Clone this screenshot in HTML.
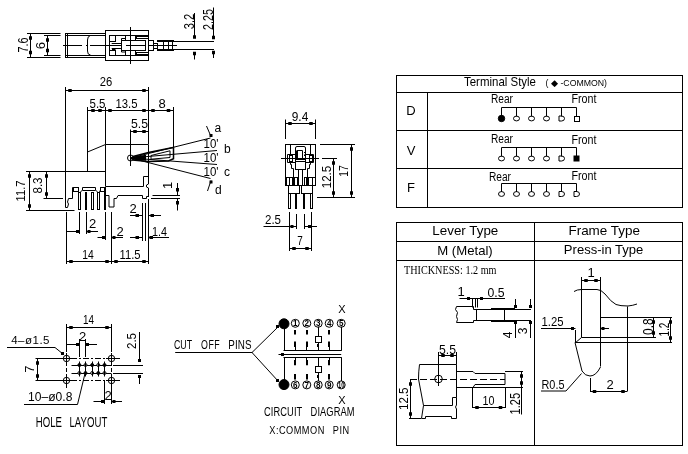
<!DOCTYPE html>
<html><head><meta charset="utf-8"><style>
html,body{margin:0;padding:0;background:#fff;}
svg{display:block;will-change:transform;}
text{font-family:"Liberation Sans",sans-serif;fill:#000;stroke:none;}
</style></head><body>
<svg width="688" height="454" viewBox="0 0 688 454" stroke="#000" stroke-width="1" fill="none">
<line x1="27" y1="33.5" x2="60.5" y2="33.5"/>
<line x1="27" y1="57.5" x2="60.5" y2="57.5"/>
<line x1="44" y1="35.5" x2="60.5" y2="35.5"/>
<line x1="44" y1="55.5" x2="60.5" y2="55.5"/>
<line x1="30.5" y1="33.5" x2="30.5" y2="57"/>
<rect x="29.0" y="36.25" width="3" height="3.5" fill="#000" stroke="none"/>
<rect x="29.0" y="50.75" width="3" height="3.5" fill="#000" stroke="none"/>
<line x1="47.5" y1="35.5" x2="47.5" y2="55"/>
<rect x="46.0" y="38.25" width="3" height="3.5" fill="#000" stroke="none"/>
<rect x="46.0" y="48.75" width="3" height="3.5" fill="#000" stroke="none"/>
<text x="27.5" y="45" font-size="14" textLength="15" lengthAdjust="spacingAndGlyphs" text-anchor="middle" transform="rotate(-90 27.5 45)">7.6</text>
<text x="44.5" y="45.5" font-size="13" text-anchor="middle" transform="rotate(-90 44.5 45.5)">6</text>
<line x1="65" y1="33.5" x2="105.5" y2="33.5"/>
<line x1="65" y1="35.5" x2="105.5" y2="35.5"/>
<line x1="65" y1="55.5" x2="105.5" y2="55.5"/>
<line x1="65" y1="57.5" x2="105.5" y2="57.5"/>
<line x1="65.5" y1="33.5" x2="65.5" y2="57"/>
<line x1="67.5" y1="33.5" x2="67.5" y2="57"/>
<line x1="63" y1="45.5" x2="82" y2="45.5"/>
<line x1="86" y1="45.5" x2="88" y2="45.5"/>
<line x1="90" y1="45.5" x2="105.5" y2="45.5"/>
<path d="M90.5,35.5 Q87.5,36 87.5,40 L87.5,51 Q87.5,55 90.5,55" fill="none"/>
<rect x="105.5" y="30.5" width="43.0" height="30.0" fill="none"/>
<rect x="109.5" y="35.5" width="39.0" height="20.0" fill="none"/>
<line x1="130.5" y1="27" x2="130.5" y2="64"/>
<rect x="109.5" y="35.5" width="6.0" height="6.0" fill="none"/>
<rect x="109.5" y="50.5" width="6.0" height="5.0" fill="none"/>
<line x1="111.7" y1="43.5" x2="121" y2="43.5"/>
<line x1="111.7" y1="48.5" x2="121" y2="48.5"/>
<line x1="112" y1="41.5" x2="115.5" y2="41.5"/>
<line x1="112" y1="49.5" x2="115.5" y2="49.5"/>
<line x1="104" y1="45.5" x2="121" y2="45.5"/>
<rect x="121.5" y="40.5" width="24.0" height="10.0" fill="none"/>
<polyline points="121.5,40.5 121.5,38.5 125.5,38.5" fill="none"/>
<polyline points="121.5,50 121.5,52 125.5,52" fill="none"/>
<rect x="125.5" y="35.5" width="10.0" height="5.0" fill="none"/>
<rect x="125.5" y="50.5" width="10.0" height="5.0" fill="none"/>
<rect x="136.5" y="36.5" width="12.0" height="2.0" fill="none"/>
<rect x="136.5" y="52.5" width="12.0" height="2.0" fill="none"/>
<line x1="126" y1="45.5" x2="145" y2="45.5"/>
<rect x="148.5" y="40.5" width="5.0" height="10.0" fill="none"/>
<rect x="153.5" y="43.5" width="4.0" height="5.0" fill="none"/>
<line x1="157" y1="41" x2="174" y2="41" stroke-width="2"/>
<line x1="157" y1="50" x2="174" y2="50" stroke-width="2"/>
<line x1="174" y1="41.5" x2="214" y2="41.5"/>
<line x1="174" y1="49.5" x2="214" y2="49.5"/>
<line x1="163.5" y1="41" x2="163.5" y2="50"/>
<line x1="168.5" y1="41" x2="168.5" y2="50"/>
<line x1="172.5" y1="41" x2="172.5" y2="50"/>
<line x1="149" y1="45.5" x2="177" y2="45.5"/>
<line x1="194.5" y1="13" x2="194.5" y2="37"/>
<rect x="193.0" y="35.25" width="3" height="3.5" fill="#000" stroke="none"/>
<line x1="194.5" y1="52" x2="194.5" y2="59.5"/>
<rect x="193.0" y="51.75" width="3" height="3.5" fill="#000" stroke="none"/>
<line x1="213.5" y1="7.5" x2="213.5" y2="37.5"/>
<rect x="212.0" y="35.75" width="3" height="3.5" fill="#000" stroke="none"/>
<line x1="213.5" y1="51" x2="213.5" y2="58"/>
<rect x="212.0" y="50.75" width="3" height="3.5" fill="#000" stroke="none"/>
<text x="194" y="21.5" font-size="14" textLength="15.5" lengthAdjust="spacingAndGlyphs" text-anchor="middle" transform="rotate(-90 194 21.5)">3.2</text>
<text x="212.5" y="19.5" font-size="14" textLength="21" lengthAdjust="spacingAndGlyphs" text-anchor="middle" transform="rotate(-90 212.5 19.5)">2.25</text>
<line x1="65.5" y1="87" x2="65.5" y2="171"/>
<line x1="65.5" y1="90.5" x2="148.5" y2="90.5"/>
<rect x="68.25" y="89.0" width="3.5" height="3" fill="#000" stroke="none"/>
<rect x="142.25" y="89.0" width="3.5" height="3" fill="#000" stroke="none"/>
<line x1="148.5" y1="87" x2="148.5" y2="144.5"/>
<text x="106" y="86" font-size="13" textLength="12.5" lengthAdjust="spacingAndGlyphs" text-anchor="middle">26</text>
<line x1="87.5" y1="107" x2="87.5" y2="171"/>
<line x1="105.5" y1="107" x2="105.5" y2="144.5"/>
<line x1="173.5" y1="107" x2="173.5" y2="158"/>
<line x1="87.5" y1="110.5" x2="173.5" y2="110.5"/>
<rect x="91.25" y="109.0" width="3.5" height="3" fill="#000" stroke="none"/>
<rect x="98.25" y="109.0" width="3.5" height="3" fill="#000" stroke="none"/>
<rect x="108.25" y="109.0" width="3.5" height="3" fill="#000" stroke="none"/>
<rect x="142.25" y="109.0" width="3.5" height="3" fill="#000" stroke="none"/>
<rect x="151.25" y="109.0" width="3.5" height="3" fill="#000" stroke="none"/>
<rect x="166.75" y="109.0" width="3.5" height="3" fill="#000" stroke="none"/>
<text x="97.5" y="108" font-size="13" textLength="16" lengthAdjust="spacingAndGlyphs" text-anchor="middle">5.5</text>
<text x="126.5" y="108" font-size="13" textLength="22" lengthAdjust="spacingAndGlyphs" text-anchor="middle">13.5</text>
<text x="162" y="108" font-size="13" text-anchor="middle">8</text>
<line x1="130.5" y1="129.5" x2="130.5" y2="166"/>
<line x1="130.5" y1="131.5" x2="148.5" y2="131.5"/>
<rect x="133.25" y="130.0" width="3.5" height="3" fill="#000" stroke="none"/>
<rect x="142.25" y="130.0" width="3.5" height="3" fill="#000" stroke="none"/>
<text x="139.5" y="127.5" font-size="13" textLength="17" lengthAdjust="spacingAndGlyphs" text-anchor="middle">5.5</text>
<line x1="105.5" y1="144.5" x2="148" y2="144.5"/>
<line x1="105.5" y1="144.5" x2="105.5" y2="186.5"/>
<line x1="105.5" y1="186.5" x2="143.5" y2="186.5"/>
<polyline points="143.5,186.5 143.5,176.5 148,176.5" fill="none"/>
<polyline points="148.5,144.5 148.5,184 146.5,185 146.5,187 148.5,188 148.5,197" fill="none"/>
<line x1="87.5" y1="152" x2="105.5" y2="144.5"/>
<circle cx="130.5" cy="158" r="3" fill="none"/>
<polygon points="133,156.5 148.5,152.5 173.5,147.5 173.5,158.7 168.5,161 148.5,161.5 133,160" fill="none" stroke-width="1.5"/>
<polygon points="131,157 146,154.8 146,160.8 131,159.6" fill="#000" stroke="none"/>
<polygon points="151,155.5 170,150.8 170,157.5 151,159.2" fill="none"/>
<line x1="130.5" y1="158" x2="210.5" y2="138"/>
<line x1="130.5" y1="158" x2="217" y2="150.5"/>
<line x1="130.5" y1="158" x2="217" y2="164.5"/>
<line x1="130.5" y1="158" x2="210.5" y2="178.5"/>
<line x1="206.5" y1="126" x2="211" y2="136.5"/>
<rect x="209.5" y="134" width="3" height="3" fill="#000" stroke="none"/>
<line x1="207.5" y1="191" x2="211" y2="180.5"/>
<rect x="209.5" y="180.5" width="3" height="3" fill="#000" stroke="none"/>
<text x="214.5" y="132" font-size="12">a</text>
<text x="224" y="153" font-size="12">b</text>
<text x="224" y="176" font-size="12">c</text>
<text x="215" y="194" font-size="12">d</text>
<text x="211" y="148" font-size="13" textLength="15" lengthAdjust="spacingAndGlyphs" text-anchor="middle">10'</text>
<text x="211" y="162" font-size="13" textLength="15" lengthAdjust="spacingAndGlyphs" text-anchor="middle">10'</text>
<text x="211" y="176" font-size="13" textLength="15" lengthAdjust="spacingAndGlyphs" text-anchor="middle">10'</text>
<line x1="26" y1="171.5" x2="105.5" y2="171.5"/>
<line x1="26" y1="210.5" x2="74.5" y2="210.5"/>
<line x1="43.5" y1="198.5" x2="63" y2="198.5"/>
<line x1="29.5" y1="171.5" x2="29.5" y2="210.5"/>
<rect x="28.0" y="174.25" width="3" height="3.5" fill="#000" stroke="none"/>
<rect x="28.0" y="204.25" width="3" height="3.5" fill="#000" stroke="none"/>
<line x1="46.5" y1="171.5" x2="46.5" y2="198.5"/>
<rect x="45.0" y="174.25" width="3" height="3.5" fill="#000" stroke="none"/>
<rect x="45.0" y="192.25" width="3" height="3.5" fill="#000" stroke="none"/>
<text x="25" y="191" font-size="13" textLength="21" lengthAdjust="spacingAndGlyphs" text-anchor="middle" transform="rotate(-90 25 191)">11.7</text>
<text x="42" y="185.5" font-size="13" textLength="16" lengthAdjust="spacingAndGlyphs" text-anchor="middle" transform="rotate(-90 42 185.5)">8.3</text>
<polyline points="65.5,171.5 65.5,207.5 67.5,207.5 68.5,204 67.5,202 68.5,198.5 72.5,198.5 72.5,187.5 78.5,187.5 78.5,192" fill="none"/>
<rect x="73.5" y="187.5" width="5.0" height="4.0" fill="none"/>
<polyline points="80.5,192 82.5,190 82.5,187.5 95.5,187.5 95.5,190 97.5,192" fill="none"/>
<line x1="82.5" y1="190.5" x2="95.5" y2="190.5"/>
<rect x="100.5" y="187.5" width="5.0" height="4.0" fill="none"/>
<polyline points="99.5,192 100.5,190" fill="none"/>
<rect x="78.5" y="192.5" width="2.0" height="17.0" fill="none"/>
<rect x="91.5" y="192.5" width="2.0" height="17.0" fill="none"/>
<rect x="97.5" y="192.5" width="2.0" height="17.0" fill="none"/>
<rect x="104.5" y="187.5" width="1.0" height="22.0" fill="none"/>
<rect x="85" y="192" width="2" height="18" fill="#000" stroke="none"/>
<polyline points="105.5,195.5 109,195.5 109,207 114,207 114,198.5 116.5,198.5 118,195.5 142.5,195.5 142.5,198.5 146.5,198.5 146.5,196.5 148.5,196.5" fill="none"/>
<line x1="152.5" y1="195.5" x2="180" y2="195.5"/>
<line x1="151" y1="198.5" x2="180" y2="198.5"/>
<line x1="177.5" y1="183" x2="177.5" y2="195"/>
<rect x="176" y="188" width="3" height="3.5" fill="#000" stroke="none"/>
<line x1="177.5" y1="199" x2="177.5" y2="210.5"/>
<rect x="176" y="201" width="3" height="3.5" fill="#000" stroke="none"/>
<text x="172.5" y="185.4" font-size="13" text-anchor="middle" transform="rotate(-90 172.5 185.4)">1</text>
<line x1="66.5" y1="212" x2="66.5" y2="264"/>
<line x1="79.5" y1="212" x2="79.5" y2="234"/>
<line x1="86.5" y1="212" x2="86.5" y2="234"/>
<line x1="105.5" y1="212" x2="105.5" y2="240"/>
<line x1="111.5" y1="212" x2="111.5" y2="264"/>
<line x1="142.5" y1="203" x2="142.5" y2="241"/>
<line x1="145.5" y1="203" x2="145.5" y2="241"/>
<line x1="148.5" y1="199" x2="148.5" y2="264"/>
<line x1="66.5" y1="231.5" x2="79.5" y2="231.5"/>
<rect x="76" y="230" width="3" height="3" fill="#000" stroke="none"/>
<line x1="86.5" y1="231.5" x2="98" y2="231.5"/>
<rect x="87.5" y="230" width="3" height="3" fill="#000" stroke="none"/>
<text x="92.5" y="228" font-size="13" text-anchor="middle">2</text>
<line x1="97.5" y1="237.5" x2="105.5" y2="237.5"/>
<rect x="102" y="236" width="3" height="3" fill="#000" stroke="none"/>
<line x1="111.5" y1="237.5" x2="123" y2="237.5"/>
<rect x="112.5" y="236" width="3" height="3" fill="#000" stroke="none"/>
<text x="120" y="235.5" font-size="13" text-anchor="middle">2</text>
<line x1="130" y1="237.5" x2="142.5" y2="237.5"/>
<rect x="135.5" y="236" width="3.5" height="3" fill="#000" stroke="none"/>
<line x1="148.5" y1="237.5" x2="169" y2="237.5"/>
<rect x="149.5" y="236" width="3.5" height="3" fill="#000" stroke="none"/>
<text x="159.5" y="235.5" font-size="13" textLength="15" lengthAdjust="spacingAndGlyphs" text-anchor="middle">1.4</text>
<line x1="130" y1="215.5" x2="142.5" y2="215.5"/>
<rect x="135.5" y="214" width="3.5" height="3" fill="#000" stroke="none"/>
<line x1="148.5" y1="215.5" x2="161" y2="215.5"/>
<rect x="150.5" y="214" width="3.5" height="3" fill="#000" stroke="none"/>
<text x="133" y="213" font-size="13" text-anchor="middle">2</text>
<line x1="66.5" y1="261.5" x2="111.5" y2="261.5"/>
<rect x="69.25" y="260.0" width="3.5" height="3" fill="#000" stroke="none"/>
<rect x="105.25" y="260.0" width="3.5" height="3" fill="#000" stroke="none"/>
<line x1="111.5" y1="261.5" x2="148.5" y2="261.5"/>
<rect x="114.25" y="260.0" width="3.5" height="3" fill="#000" stroke="none"/>
<rect x="142.25" y="260.0" width="3.5" height="3" fill="#000" stroke="none"/>
<text x="88" y="258.5" font-size="13" textLength="11.5" lengthAdjust="spacingAndGlyphs" text-anchor="middle">14</text>
<text x="130" y="258.5" font-size="13" textLength="21" lengthAdjust="spacingAndGlyphs" text-anchor="middle">11.5</text>
<line x1="285.5" y1="119.5" x2="285.5" y2="139"/>
<line x1="315.5" y1="119.5" x2="315.5" y2="139"/>
<line x1="285.5" y1="123.5" x2="315.5" y2="123.5"/>
<rect x="288.25" y="122.0" width="3.5" height="3" fill="#000" stroke="none"/>
<rect x="309.25" y="122.0" width="3.5" height="3" fill="#000" stroke="none"/>
<text x="300" y="120.5" font-size="13" textLength="16.5" lengthAdjust="spacingAndGlyphs" text-anchor="middle">9.4</text>
<rect x="285.5" y="144.5" width="30.0" height="41.0" fill="none"/>
<line x1="290.5" y1="144.5" x2="290.5" y2="154.5"/>
<line x1="310.5" y1="144.5" x2="310.5" y2="154.5"/>
<line x1="281" y1="158.5" x2="319" y2="158.5"/>
<path d="M295.5,161.5 L295.5,148 Q295.5,146.5 297,146.5 L304,146.5 Q305.5,146.5 305.5,148 L305.5,161.5 Z" fill="none"/>
<polyline points="297,150.5 297,159 303,159" fill="none" stroke-width="2"/>
<polyline points="297,150.5 302.5,150.5 302.5,159" fill="none"/>
<line x1="304.5" y1="152" x2="304.5" y2="153"/>
<line x1="304.5" y1="154.5" x2="304.5" y2="156"/>
<line x1="295.5" y1="159.5" x2="305.5" y2="159.5"/>
<polyline points="295.5,154.5 287.5,154.5 287.5,162.5 295.5,162.5" fill="none"/>
<polyline points="305.5,154.5 313.5,154.5 313.5,162.5 305.5,162.5" fill="none"/>
<rect x="289.5" y="155.5" width="3.0" height="6.0" fill="none"/>
<rect x="309.5" y="155.5" width="3.0" height="6.0" fill="none"/>
<rect x="295.5" y="161.5" width="10.0" height="8.0" fill="none"/>
<polyline points="290.5,162.5 290.5,164.5 291.5,164.5 291.5,168.5 293.5,168.5 293.5,177" fill="none"/>
<polyline points="310.5,162.5 310.5,164.5 309.5,164.5 309.5,168.5 307.5,168.5 307.5,177" fill="none"/>
<rect x="298.5" y="169.5" width="4.0" height="16.0" fill="none"/>
<rect x="286.5" y="177.5" width="11.0" height="8.0" fill="none"/>
<rect x="304.5" y="177.5" width="11.0" height="8.0" fill="none"/>
<rect x="292" y="178" width="3" height="7" fill="#000" stroke="none"/>
<rect x="306" y="178" width="3" height="7" fill="#000" stroke="none"/>
<line x1="289.5" y1="177" x2="289.5" y2="185.5"/>
<line x1="312.5" y1="177" x2="312.5" y2="185.5"/>
<rect x="288.5" y="185.5" width="11.0" height="8.0" fill="none"/>
<rect x="301.5" y="185.5" width="11.0" height="8.0" fill="none"/>
<rect x="288.5" y="193.5" width="2.0" height="15.0" fill="none"/>
<rect x="295.5" y="193.5" width="1.0" height="15.0" fill="none"/>
<rect x="303.5" y="193.5" width="1.0" height="15.0" fill="none"/>
<rect x="310.5" y="193.5" width="2.0" height="15.0" fill="none"/>
<line x1="320" y1="144.5" x2="355" y2="144.5"/>
<line x1="322" y1="158.5" x2="337" y2="158.5"/>
<line x1="317" y1="197.5" x2="355" y2="197.5"/>
<line x1="333.5" y1="158.5" x2="333.5" y2="197.5"/>
<rect x="332.0" y="161.25" width="3" height="3.5" fill="#000" stroke="none"/>
<rect x="332.0" y="191.25" width="3" height="3.5" fill="#000" stroke="none"/>
<line x1="351.5" y1="144.5" x2="351.5" y2="197.5"/>
<rect x="350.0" y="147.25" width="3" height="3.5" fill="#000" stroke="none"/>
<rect x="350.0" y="191.25" width="3" height="3.5" fill="#000" stroke="none"/>
<text x="331" y="177" font-size="13" textLength="22.5" lengthAdjust="spacingAndGlyphs" text-anchor="middle" transform="rotate(-90 331 177)">12.5</text>
<text x="348" y="171" font-size="13" textLength="11.6" lengthAdjust="spacingAndGlyphs" text-anchor="middle" transform="rotate(-90 348 171)">17</text>
<line x1="289.5" y1="212" x2="289.5" y2="251"/>
<line x1="311.5" y1="212" x2="311.5" y2="251"/>
<line x1="296.5" y1="214" x2="296.5" y2="229"/>
<line x1="304.5" y1="214" x2="304.5" y2="229"/>
<line x1="263.5" y1="226.5" x2="296.5" y2="226.5"/>
<rect x="290.5" y="225" width="3" height="3" fill="#000" stroke="none"/>
<line x1="304.5" y1="226.5" x2="317" y2="226.5"/>
<rect x="308" y="225" width="3" height="3" fill="#000" stroke="none"/>
<text x="273" y="223.5" font-size="13" textLength="16" lengthAdjust="spacingAndGlyphs" text-anchor="middle">2.5</text>
<line x1="289.5" y1="248.5" x2="311.5" y2="248.5"/>
<rect x="292.25" y="247.0" width="3.5" height="3" fill="#000" stroke="none"/>
<rect x="305.25" y="247.0" width="3.5" height="3" fill="#000" stroke="none"/>
<text x="300" y="244.5" font-size="13" textLength="5.5" lengthAdjust="spacingAndGlyphs" text-anchor="middle">7</text>
<rect x="396.5" y="75.5" width="286.0" height="132.0" fill="none"/>
<line x1="396.5" y1="92.5" x2="682.5" y2="92.5"/>
<line x1="396.5" y1="130.5" x2="682.5" y2="130.5"/>
<line x1="396.5" y1="168.5" x2="682.5" y2="168.5"/>
<line x1="427.5" y1="92.5" x2="427.5" y2="207"/>
<text x="500" y="86" font-size="13" textLength="72" lengthAdjust="spacingAndGlyphs" text-anchor="middle">Terminal Style</text>
<text x="545.5" y="86.3" font-size="8.5" textLength="61.5" lengthAdjust="spacingAndGlyphs">( ◆ -COMMON)</text>
<text x="411" y="115" font-size="13" text-anchor="middle">D</text>
<text x="411" y="154.5" font-size="13" text-anchor="middle">V</text>
<text x="411" y="191.5" font-size="13" text-anchor="middle">F</text>
<line x1="501.5" y1="107.5" x2="576.5" y2="107.5"/>
<line x1="501.5" y1="107.5" x2="501.5" y2="116.5"/>
<circle cx="501.5" cy="118.5" r="3.2" fill="#000"/>
<line x1="516.5" y1="107.5" x2="516.5" y2="116.5"/>
<ellipse cx="516.5" cy="118.5" rx="3" ry="2.4" fill="none"/>
<line x1="531.5" y1="107.5" x2="531.5" y2="116.5"/>
<ellipse cx="531.5" cy="118.5" rx="3" ry="2.4" fill="none"/>
<line x1="546.5" y1="107.5" x2="546.5" y2="116.5"/>
<ellipse cx="546.5" cy="118.5" rx="3" ry="2.4" fill="none"/>
<line x1="561.5" y1="107.5" x2="561.5" y2="116.5"/>
<path d="M559.0,116.0 L561.5,116.0 Q564.5,116.0 564.5,118.5 Q564.5,121.0 561.5,121.0 L559.0,121.0 Z" fill="none"/>
<line x1="576.5" y1="107.5" x2="576.5" y2="116.5"/>
<rect x="574.5" y="116.5" width="5.0" height="5.0" fill="none"/>
<text x="502" y="102.5" font-size="12" textLength="22" lengthAdjust="spacingAndGlyphs" text-anchor="middle">Rear</text>
<text x="584" y="103" font-size="12" textLength="25" lengthAdjust="spacingAndGlyphs" text-anchor="middle">Front</text>
<line x1="501.5" y1="147.5" x2="576.5" y2="147.5"/>
<line x1="501.5" y1="147.5" x2="501.5" y2="156.5"/>
<ellipse cx="501.5" cy="158.5" rx="3" ry="2.4" fill="none"/>
<line x1="516.5" y1="147.5" x2="516.5" y2="156.5"/>
<ellipse cx="516.5" cy="158.5" rx="3" ry="2.4" fill="none"/>
<line x1="531.5" y1="147.5" x2="531.5" y2="156.5"/>
<ellipse cx="531.5" cy="158.5" rx="3" ry="2.4" fill="none"/>
<line x1="546.5" y1="147.5" x2="546.5" y2="156.5"/>
<ellipse cx="546.5" cy="158.5" rx="3" ry="2.4" fill="none"/>
<line x1="561.5" y1="147.5" x2="561.5" y2="156.5"/>
<path d="M559.0,156.0 L561.5,156.0 Q564.5,156.0 564.5,158.5 Q564.5,161.0 561.5,161.0 L559.0,161.0 Z" fill="none"/>
<line x1="576.5" y1="147.5" x2="576.5" y2="156.5"/>
<rect x="573.5" y="155.5" width="6" height="6" fill="#000" stroke="none"/>
<text x="502" y="142.5" font-size="12" textLength="22" lengthAdjust="spacingAndGlyphs" text-anchor="middle">Rear</text>
<text x="584" y="143.5" font-size="12" textLength="25" lengthAdjust="spacingAndGlyphs" text-anchor="middle">Front</text>
<line x1="501.5" y1="183.5" x2="576.5" y2="183.5"/>
<line x1="501.5" y1="183.5" x2="501.5" y2="192"/>
<ellipse cx="501.5" cy="194" rx="3" ry="2.4" fill="none"/>
<line x1="516.5" y1="183.5" x2="516.5" y2="192"/>
<ellipse cx="516.5" cy="194" rx="3" ry="2.4" fill="none"/>
<line x1="531.5" y1="183.5" x2="531.5" y2="192"/>
<ellipse cx="531.5" cy="194" rx="3" ry="2.4" fill="none"/>
<line x1="546.5" y1="183.5" x2="546.5" y2="192"/>
<ellipse cx="546.5" cy="194" rx="3" ry="2.4" fill="none"/>
<line x1="561.5" y1="183.5" x2="561.5" y2="192"/>
<path d="M559.0,191.5 L561.5,191.5 Q564.5,191.5 564.5,194 Q564.5,196.5 561.5,196.5 L559.0,196.5 Z" fill="none"/>
<line x1="576.5" y1="183.5" x2="576.5" y2="192"/>
<path d="M574.0,191.5 L576.5,191.5 Q579.5,191.5 579.5,194 Q579.5,196.5 576.5,196.5 L574.0,196.5 Z" fill="none"/>
<text x="500" y="180.5" font-size="12" textLength="22" lengthAdjust="spacingAndGlyphs" text-anchor="middle">Rear</text>
<text x="584" y="179.5" font-size="12" textLength="25" lengthAdjust="spacingAndGlyphs" text-anchor="middle">Front</text>
<rect x="396.5" y="222.5" width="286.0" height="223.0" fill="none"/>
<line x1="396.5" y1="241.5" x2="682.5" y2="241.5"/>
<line x1="396.5" y1="260.5" x2="682.5" y2="260.5"/>
<line x1="534.5" y1="222.5" x2="534.5" y2="445.5"/>
<text x="465.3" y="235" font-size="13" textLength="66" lengthAdjust="spacingAndGlyphs" text-anchor="middle">Lever Type</text>
<text x="465" y="254.5" font-size="13" textLength="55.5" lengthAdjust="spacingAndGlyphs" text-anchor="middle">M (Metal)</text>
<text x="604.2" y="235" font-size="13" textLength="71.5" lengthAdjust="spacingAndGlyphs" text-anchor="middle">Frame Type</text>
<text x="603.6" y="254" font-size="13" textLength="79.5" lengthAdjust="spacingAndGlyphs" text-anchor="middle">Press-in Type</text>
<text x="404" y="273.5" font-size="12" textLength="92.5" lengthAdjust="spacingAndGlyphs" style="font-family:'Liberation Serif'">THICKNESS: 1.2 mm</text>
<text x="461" y="295.5" font-size="13" text-anchor="middle">1</text>
<text x="496" y="296.5" font-size="13" textLength="17" lengthAdjust="spacingAndGlyphs" text-anchor="middle">0.5</text>
<line x1="459.5" y1="298.5" x2="505" y2="298.5"/>
<rect x="467" y="297" width="3" height="3" fill="#000" stroke="none"/>
<rect x="480" y="297" width="3" height="3" fill="#000" stroke="none"/>
<line x1="472.5" y1="298.5" x2="472.5" y2="307.5"/>
<line x1="475.5" y1="298.5" x2="475.5" y2="307.5"/>
<line x1="477.5" y1="298.5" x2="477.5" y2="307.5"/>
<path d="M473.5,309.5 L473.5,306.5 L456.5,306.5 L455.5,309.5 L457.5,312.5 L456.5,316.5 L457.5,319.5 L456.5,322.5 L473.5,322.5 L473.5,320.5" fill="none"/>
<line x1="476.5" y1="309.5" x2="476.5" y2="320.5"/>
<line x1="473.5" y1="309.5" x2="531" y2="309.5"/>
<line x1="473.5" y1="320.5" x2="531" y2="320.5"/>
<line x1="491" y1="309" x2="515" y2="309" stroke-width="2"/>
<line x1="491" y1="321" x2="515" y2="321" stroke-width="2"/>
<line x1="504.5" y1="309" x2="504.5" y2="320"/>
<line x1="515.5" y1="299" x2="515.5" y2="308"/>
<rect x="514" y="305" width="3" height="3" fill="#000" stroke="none"/>
<line x1="530.5" y1="299" x2="530.5" y2="308"/>
<rect x="529" y="305" width="3" height="3" fill="#000" stroke="none"/>
<line x1="515.5" y1="321" x2="515.5" y2="338"/>
<rect x="514" y="321" width="3" height="3" fill="#000" stroke="none"/>
<line x1="530.5" y1="321" x2="530.5" y2="338"/>
<rect x="529" y="321" width="3" height="3" fill="#000" stroke="none"/>
<text x="512" y="335" font-size="12" text-anchor="middle" transform="rotate(-90 512 335)">4</text>
<text x="527" y="331" font-size="12" text-anchor="middle" transform="rotate(-90 527 331)">3</text>
<text x="447.5" y="353.5" font-size="13" textLength="17" lengthAdjust="spacingAndGlyphs" text-anchor="middle">5.5</text>
<line x1="438.5" y1="352" x2="438.5" y2="386"/>
<line x1="456.5" y1="352" x2="456.5" y2="364.5"/>
<line x1="438.5" y1="355.5" x2="456.5" y2="355.5"/>
<rect x="441.25" y="354.0" width="3.5" height="3" fill="#000" stroke="none"/>
<rect x="450.25" y="354.0" width="3.5" height="3" fill="#000" stroke="none"/>
<path d="M456.5,364.5 L419.5,364.5 Q418.5,372 418.5,379 L423.5,405.5 L421.5,418.5 L425.5,418.5 L425.5,416.5 L451.5,416.5 L451.5,418.5 L456.5,418.5 L456.5,409 L455.5,407 L456.5,405 L456.5,397.5 L452.5,397.5 L452.5,405.5 L423.5,405.5" fill="none"/>
<line x1="456.5" y1="364.5" x2="456.5" y2="397.5"/>
<line x1="410" y1="379.5" x2="505" y2="379.5" stroke-dasharray="7,3"/>
<circle cx="438.5" cy="379" r="3.8" fill="none"/>
<line x1="438.5" y1="373" x2="438.5" y2="384"/>
<polyline points="456.5,371.5 473,371.5 475,373.5 505,373.5 505,384.5 475,384.5 473,387.5 456.5,387.5" fill="none"/>
<line x1="456.5" y1="387.5" x2="523" y2="387.5"/>
<line x1="505" y1="371.5" x2="523" y2="371.5"/>
<line x1="521.5" y1="371.5" x2="521.5" y2="387.5"/>
<rect x="520.0" y="374.25" width="3" height="3.5" fill="#000" stroke="none"/>
<rect x="520.0" y="381.25" width="3" height="3.5" fill="#000" stroke="none"/>
<line x1="521.5" y1="387.5" x2="521.5" y2="414.5"/>
<text x="520" y="403.7" font-size="14" textLength="21.5" lengthAdjust="spacingAndGlyphs" text-anchor="middle" transform="rotate(-90 520 403.7)">1.25</text>
<line x1="472.5" y1="388" x2="472.5" y2="408"/>
<line x1="505.5" y1="388" x2="505.5" y2="408"/>
<line x1="472.5" y1="407.5" x2="505" y2="407.5"/>
<rect x="475.25" y="406.0" width="3.5" height="3" fill="#000" stroke="none"/>
<rect x="498.75" y="406.0" width="3.5" height="3" fill="#000" stroke="none"/>
<text x="488.5" y="405" font-size="13" textLength="12" lengthAdjust="spacingAndGlyphs" text-anchor="middle">10</text>
<line x1="409" y1="418.5" x2="421" y2="418.5"/>
<line x1="410.5" y1="379.5" x2="410.5" y2="418.5"/>
<rect x="409.0" y="382.25" width="3" height="3.5" fill="#000" stroke="none"/>
<rect x="409.0" y="412.25" width="3" height="3.5" fill="#000" stroke="none"/>
<text x="408" y="398.7" font-size="13.5" textLength="22.5" lengthAdjust="spacingAndGlyphs" text-anchor="middle" transform="rotate(-90 408 398.7)">12.5</text>
<line x1="581.5" y1="277" x2="581.5" y2="337.5"/>
<line x1="600.5" y1="277" x2="600.5" y2="366.5"/>
<line x1="581.5" y1="280.5" x2="600.5" y2="280.5"/>
<rect x="584.25" y="279.0" width="3.5" height="3" fill="#000" stroke="none"/>
<rect x="594.25" y="279.0" width="3.5" height="3" fill="#000" stroke="none"/>
<text x="591" y="277" font-size="13" text-anchor="middle">1</text>
<path d="M574,291.5 Q577,289.5 581.5,289.5 L597,289.5 Q601,289.5 605,294 Q611,302 616,304.5 Q620,306 628,306 Q633,305.5 637,304" fill="none"/>
<line x1="627.5" y1="306.5" x2="627.5" y2="391"/>
<line x1="600.5" y1="317.5" x2="672" y2="317.5"/>
<line x1="581.5" y1="337.5" x2="656" y2="337.5"/>
<line x1="575.7" y1="342.5" x2="581.5" y2="337.5"/>
<line x1="575" y1="342.5" x2="672" y2="342.5"/>
<line x1="653.5" y1="317.5" x2="653.5" y2="337.5"/>
<rect x="652.0" y="320.25" width="3" height="3.5" fill="#000" stroke="none"/>
<rect x="652.0" y="331.25" width="3" height="3.5" fill="#000" stroke="none"/>
<line x1="670.5" y1="317.5" x2="670.5" y2="342.5"/>
<rect x="669.0" y="320.25" width="3" height="3.5" fill="#000" stroke="none"/>
<rect x="669.0" y="336.25" width="3" height="3.5" fill="#000" stroke="none"/>
<text x="653" y="326.7" font-size="15" textLength="16.5" lengthAdjust="spacingAndGlyphs" text-anchor="middle" transform="rotate(-90 653 326.7)">0.8</text>
<text x="669.3" y="329.6" font-size="14" textLength="14" lengthAdjust="spacingAndGlyphs" text-anchor="middle" transform="rotate(-90 669.3 329.6)">1.2</text>
<text x="552.5" y="326" font-size="13" textLength="22" lengthAdjust="spacingAndGlyphs" text-anchor="middle">1.25</text>
<line x1="541" y1="328.5" x2="575.5" y2="328.5"/>
<rect x="571" y="327" width="3" height="3" fill="#000" stroke="none"/>
<line x1="600.5" y1="328.5" x2="609" y2="328.5"/>
<rect x="601.5" y="327" width="3" height="3" fill="#000" stroke="none"/>
<line x1="575.5" y1="342.5" x2="575.5" y2="330"/>
<path d="M575,342.5 L582,371 Q585,376 590,376 Q596,376 600.5,367" fill="none"/>
<text x="553" y="388.5" font-size="13" textLength="23" lengthAdjust="spacingAndGlyphs" text-anchor="middle">R0.5</text>
<polyline points="541,391 566,391 581.5,373.5" fill="none"/>
<line x1="590.5" y1="378" x2="590.5" y2="392"/>
<line x1="590" y1="391.5" x2="627.5" y2="391.5"/>
<rect x="592.75" y="390.0" width="3.5" height="3" fill="#000" stroke="none"/>
<rect x="621.25" y="390.0" width="3.5" height="3" fill="#000" stroke="none"/>
<text x="610" y="388.5" font-size="13" text-anchor="middle">2</text>
<text x="0" y="0" font-size="11.52" textLength="38.30" lengthAdjust="spacing" transform="translate(11.2 343.6) scale(1.0 1)">4–ø1.5</text>
<polyline points="7,347.5 55,347.5 63,354" fill="none"/>
<rect x="61" y="352" width="3" height="3" fill="#000" stroke="none"/>
<line x1="66.5" y1="324" x2="66.5" y2="352"/>
<line x1="66.5" y1="362" x2="66.5" y2="376" stroke-dasharray="4,2"/>
<line x1="66.5" y1="385" x2="66.5" y2="388"/>
<line x1="111.5" y1="324" x2="111.5" y2="352"/>
<line x1="111.5" y1="362" x2="111.5" y2="376" stroke-dasharray="4,2"/>
<line x1="111.5" y1="385" x2="111.5" y2="404"/>
<line x1="66.5" y1="327.5" x2="111.5" y2="327.5"/>
<rect x="69.25" y="326.0" width="3.5" height="3" fill="#000" stroke="none"/>
<rect x="105.25" y="326.0" width="3.5" height="3" fill="#000" stroke="none"/>
<text x="88.5" y="324" font-size="13" textLength="11" lengthAdjust="spacingAndGlyphs" text-anchor="middle">14</text>
<line x1="79.5" y1="339" x2="79.5" y2="357"/>
<line x1="85.5" y1="339" x2="85.5" y2="357"/>
<line x1="66.5" y1="344.5" x2="79.5" y2="344.5"/>
<rect x="76" y="343" width="3" height="3" fill="#000" stroke="none"/>
<line x1="85" y1="344.5" x2="97" y2="344.5"/>
<rect x="86" y="343" width="3" height="3" fill="#000" stroke="none"/>
<text x="82.5" y="341" font-size="13" text-anchor="middle">2</text>
<circle cx="66.5" cy="358.5" r="3.2" fill="none"/>
<line x1="61.0" y1="358.5" x2="72.0" y2="358.5"/>
<line x1="66.5" y1="353.0" x2="66.5" y2="364.0"/>
<circle cx="111.5" cy="358.5" r="3.2" fill="none"/>
<line x1="106.0" y1="358.5" x2="117.0" y2="358.5"/>
<line x1="111.5" y1="353.0" x2="111.5" y2="364.0"/>
<circle cx="66.5" cy="380.5" r="3.2" fill="none"/>
<line x1="61.0" y1="380.5" x2="72.0" y2="380.5"/>
<line x1="66.5" y1="375.0" x2="66.5" y2="386.0"/>
<circle cx="111.5" cy="380.5" r="3.2" fill="none"/>
<line x1="106.0" y1="380.5" x2="117.0" y2="380.5"/>
<line x1="111.5" y1="375.0" x2="111.5" y2="386.0"/>
<line x1="35.5" y1="358.5" x2="62" y2="358.5"/>
<line x1="71" y1="358.5" x2="107" y2="358.5" stroke-dasharray="6,2,2,2"/>
<line x1="116" y1="358.5" x2="120" y2="358.5"/>
<line x1="35.5" y1="380.5" x2="62" y2="380.5"/>
<line x1="71" y1="380.5" x2="107" y2="380.5" stroke-dasharray="6,2,2,2"/>
<line x1="116" y1="380.5" x2="120" y2="380.5"/>
<line x1="37.5" y1="358.5" x2="37.5" y2="380.5"/>
<rect x="36.0" y="361.25" width="3" height="3.5" fill="#000" stroke="none"/>
<rect x="36.0" y="374.25" width="3" height="3.5" fill="#000" stroke="none"/>
<text x="34" y="369" font-size="13" text-anchor="middle" transform="rotate(-90 34 369)">7</text>
<line x1="71.5" y1="365.5" x2="111.5" y2="365.5"/>
<line x1="113" y1="365.5" x2="143" y2="365.5"/>
<circle cx="79.4" cy="365" r="1.5" fill="#000"/>
<circle cx="85.5" cy="365" r="1.5" fill="#fff"/>
<circle cx="92.2" cy="365" r="1.5" fill="#000"/>
<circle cx="98.3" cy="365" r="1.5" fill="#fff"/>
<circle cx="104.5" cy="365" r="1.5" fill="#000"/>
<line x1="71.5" y1="373.5" x2="111.5" y2="373.5"/>
<line x1="113" y1="373.5" x2="143" y2="373.5"/>
<circle cx="79.4" cy="373" r="1.5" fill="#fff"/>
<circle cx="85.5" cy="373" r="1.5" fill="#000"/>
<circle cx="92.2" cy="373" r="1.5" fill="#fff"/>
<circle cx="98.3" cy="373" r="1.5" fill="#000"/>
<circle cx="104.5" cy="373" r="1.5" fill="#fff"/>
<line x1="79.5" y1="361.5" x2="79.5" y2="376.5"/>
<line x1="85.5" y1="361.5" x2="85.5" y2="376.5"/>
<line x1="92.5" y1="361.5" x2="92.5" y2="376.5"/>
<line x1="98.5" y1="361.5" x2="98.5" y2="376.5"/>
<line x1="104.5" y1="361.5" x2="104.5" y2="376.5"/>
<line x1="139.5" y1="332" x2="139.5" y2="361"/>
<rect x="138" y="359" width="3" height="3" fill="#000" stroke="none"/>
<line x1="139.5" y1="376" x2="139.5" y2="384"/>
<rect x="138" y="375" width="3" height="3" fill="#000" stroke="none"/>
<text x="136" y="341" font-size="13" textLength="16" lengthAdjust="spacingAndGlyphs" text-anchor="middle" transform="rotate(-90 136 341)">2.5</text>
<text x="0" y="0" font-size="12.07" textLength="44.60" lengthAdjust="spacing" transform="translate(27.9 401.3) scale(1.0 1)">10–ø0.8</text>
<polyline points="24,404.5 77.5,404.5 85,373.5" fill="none"/>
<line x1="104.5" y1="381" x2="104.5" y2="404"/>
<line x1="111.5" y1="383" x2="111.5" y2="404"/>
<line x1="93.5" y1="401.5" x2="104.5" y2="401.5"/>
<rect x="101" y="400" width="3" height="3" fill="#000" stroke="none"/>
<line x1="111.5" y1="401.5" x2="122" y2="401.5"/>
<rect x="112.5" y="400" width="3" height="3" fill="#000" stroke="none"/>
<text x="108" y="400" font-size="13" text-anchor="middle">2</text>
<text x="0" y="0" font-size="14.13" textLength="38.68" lengthAdjust="spacing" transform="translate(35.7 426.8) scale(0.68 1)">HOLE</text>
<text x="0" y="0" font-size="14.13" textLength="56.03" lengthAdjust="spacing" transform="translate(69.4 426.8) scale(0.68 1)">LAYOUT</text>
<text x="0" y="0" font-size="12.62" textLength="26.14" lengthAdjust="spacing" transform="translate(173.9 349.4) scale(0.7 1)">CUT</text>
<text x="0" y="0" font-size="12.62" textLength="26.43" lengthAdjust="spacing" transform="translate(201.1 349.4) scale(0.7 1)">OFF</text>
<text x="0" y="0" font-size="12.62" textLength="30.00" lengthAdjust="spacing" transform="translate(228.2 349.4) scale(0.78 1)">PINS</text>
<line x1="175.2" y1="352.5" x2="252.4" y2="352.5"/>
<line x1="252" y1="352.5" x2="278.4" y2="326.6"/>
<rect x="276" y="325" width="3" height="3" fill="#000" stroke="none"/>
<line x1="252" y1="352.5" x2="278.4" y2="381.4"/>
<rect x="276" y="379" width="3" height="3" fill="#000" stroke="none"/>
<circle cx="284" cy="323.8" r="5" fill="#000"/>
<circle cx="284" cy="384.6" r="5" fill="#000"/>
<circle cx="295.3" cy="323.3" r="4" fill="none"/>
<text x="295.3" y="326" font-size="8.5" textLength="4.5" lengthAdjust="spacingAndGlyphs" text-anchor="middle" font-weight="bold">1</text>
<circle cx="295.3" cy="384.9" r="4" fill="none"/>
<text x="295.3" y="387.7" font-size="8.5" textLength="4.5" lengthAdjust="spacingAndGlyphs" text-anchor="middle" font-weight="bold">6</text>
<circle cx="306.8" cy="323.3" r="4" fill="none"/>
<text x="306.8" y="326" font-size="8.5" textLength="4.5" lengthAdjust="spacingAndGlyphs" text-anchor="middle" font-weight="bold">2</text>
<circle cx="306.8" cy="384.9" r="4" fill="none"/>
<text x="306.8" y="387.7" font-size="8.5" textLength="4.5" lengthAdjust="spacingAndGlyphs" text-anchor="middle" font-weight="bold">7</text>
<circle cx="318.2" cy="323.3" r="4" fill="none"/>
<text x="318.2" y="326" font-size="8.5" textLength="4.5" lengthAdjust="spacingAndGlyphs" text-anchor="middle" font-weight="bold">3</text>
<circle cx="318.2" cy="384.9" r="4" fill="none"/>
<text x="318.2" y="387.7" font-size="8.5" textLength="4.5" lengthAdjust="spacingAndGlyphs" text-anchor="middle" font-weight="bold">8</text>
<circle cx="329.2" cy="323.3" r="4" fill="none"/>
<text x="329.2" y="326" font-size="8.5" textLength="4.5" lengthAdjust="spacingAndGlyphs" text-anchor="middle" font-weight="bold">4</text>
<circle cx="329.2" cy="384.9" r="4" fill="none"/>
<text x="329.2" y="387.7" font-size="8.5" textLength="4.5" lengthAdjust="spacingAndGlyphs" text-anchor="middle" font-weight="bold">9</text>
<circle cx="341.2" cy="323.3" r="4" fill="none"/>
<text x="341.2" y="326" font-size="8.5" textLength="4.5" lengthAdjust="spacingAndGlyphs" text-anchor="middle" font-weight="bold">5</text>
<circle cx="341.2" cy="384.9" r="4" fill="none"/>
<text x="341.2" y="387.7" font-size="8.5" textLength="6.5" lengthAdjust="spacingAndGlyphs" text-anchor="middle" font-weight="bold">10</text>
<line x1="284.5" y1="323.8" x2="284.5" y2="350.5"/>
<line x1="341.5" y1="326.6" x2="341.5" y2="350.5"/>
<line x1="283.5" y1="350.5" x2="341.7" y2="350.5"/>
<line x1="283.5" y1="357.5" x2="341.7" y2="357.5"/>
<line x1="284.5" y1="357.5" x2="284.5" y2="384.6"/>
<line x1="341.5" y1="357.5" x2="341.5" y2="381.1"/>
<line x1="295" y1="330" x2="295" y2="334.5" stroke-width="2"/>
<line x1="295" y1="341.5" x2="295" y2="347" stroke-width="2"/>
<line x1="295.5" y1="347" x2="295.5" y2="350.5"/>
<line x1="295.5" y1="357.5" x2="295.5" y2="360"/>
<line x1="295" y1="360" x2="295" y2="365.3" stroke-width="2"/>
<line x1="295" y1="374" x2="295" y2="379.4" stroke-width="2"/>
<line x1="307" y1="330" x2="307" y2="334.5" stroke-width="2"/>
<line x1="307" y1="341.5" x2="307" y2="347" stroke-width="2"/>
<line x1="306.5" y1="347" x2="306.5" y2="350.5"/>
<line x1="306.5" y1="357.5" x2="306.5" y2="360"/>
<line x1="307" y1="360" x2="307" y2="365.3" stroke-width="2"/>
<line x1="307" y1="374" x2="307" y2="379.4" stroke-width="2"/>
<line x1="329" y1="330" x2="329" y2="334.5" stroke-width="2"/>
<line x1="329" y1="341.5" x2="329" y2="347" stroke-width="2"/>
<line x1="329.5" y1="347" x2="329.5" y2="350.5"/>
<line x1="329.5" y1="357.5" x2="329.5" y2="360"/>
<line x1="329" y1="360" x2="329" y2="365.3" stroke-width="2"/>
<line x1="329" y1="374" x2="329" y2="379.4" stroke-width="2"/>
<line x1="318.5" y1="326.6" x2="318.5" y2="336.5"/>
<line x1="318.5" y1="342.5" x2="318.5" y2="350.5"/>
<line x1="318" y1="344" x2="318" y2="347" stroke-width="2"/>
<line x1="318.5" y1="357.5" x2="318.5" y2="366.5"/>
<line x1="318.5" y1="372.5" x2="318.5" y2="381.1"/>
<line x1="318" y1="375" x2="318" y2="378" stroke-width="2"/>
<rect x="315.5" y="336.5" width="6.0" height="6.0" fill="none"/>
<rect x="315.5" y="366.5" width="6.0" height="6.0" fill="none"/>
<line x1="278.5" y1="354.5" x2="341.2" y2="354.5"/>
<rect x="281" y="353" width="3" height="3" fill="#000" stroke="none"/>
<text x="342" y="312.5" font-size="11" text-anchor="middle">X</text>
<text x="342" y="403.5" font-size="11" text-anchor="middle">X</text>
<text x="0" y="0" font-size="11.93" textLength="49.10" lengthAdjust="spacing" transform="translate(264 416.3) scale(0.78 1)">CIRCUIT</text>
<text x="0" y="0" font-size="11.93" textLength="56.28" lengthAdjust="spacing" transform="translate(310.6 416.3) scale(0.78 1)">DIAGRAM</text>
<text x="0" y="0" font-size="11.80" textLength="70.51" lengthAdjust="spacing" transform="translate(269.3 434) scale(0.78 1)">X:COMMON</text>
<text x="0" y="0" font-size="11.80" textLength="21.03" lengthAdjust="spacing" transform="translate(332.8 434) scale(0.78 1)">PIN</text>
</svg>
</body></html>
